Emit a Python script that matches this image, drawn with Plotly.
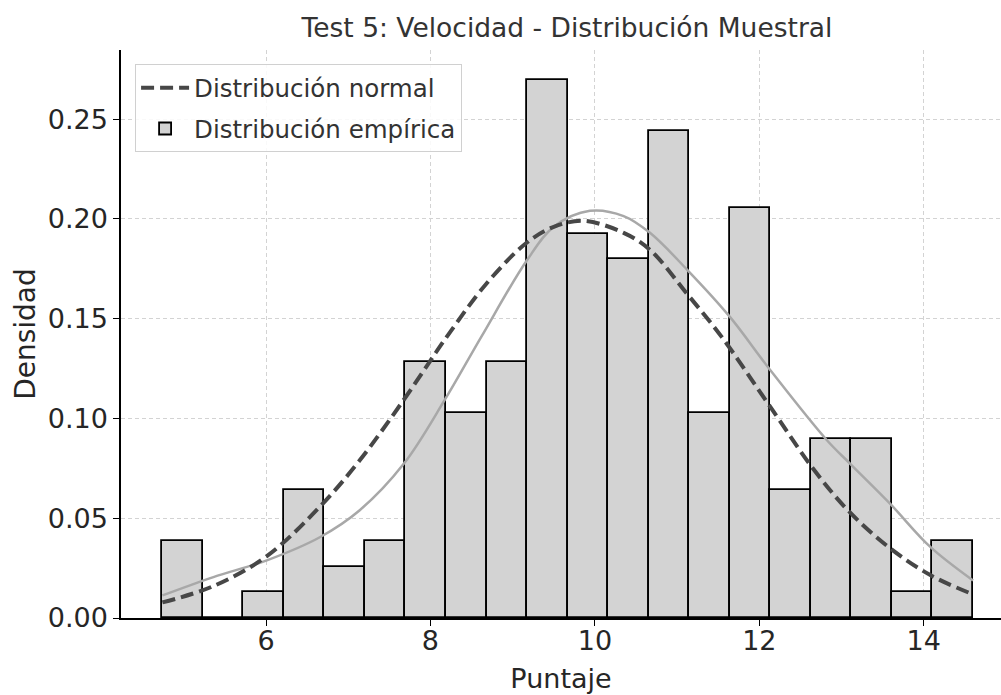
import plotly.graph_objects as go

# ---------------- data ----------------
bin_edges = [4.738, 5.231, 5.724, 6.217, 6.710, 7.203, 7.696, 8.189, 8.682, 9.175,
             9.668, 10.161, 10.654, 11.147, 11.640, 12.133, 12.626, 13.119, 13.612,
             14.105, 14.598]
hist_density = [0.0385, 0.0, 0.0128, 0.0642, 0.0257, 0.0385, 0.1284, 0.1027, 0.1284,
                0.2696, 0.1926, 0.1797, 0.2439, 0.1027, 0.2054, 0.0642, 0.0899,
                0.0899, 0.0128, 0.0385]

normal_x = [4.74, 5.36, 6.01, 6.66, 7.14, 7.67, 8.00, 8.20, 8.68, 9.17, 9.50, 9.86,
            10.35, 10.67, 11.12, 11.54, 12.13, 12.66, 13.10, 13.59, 14.08, 14.56]
normal_y = [0.0078, 0.016, 0.031, 0.056, 0.079, 0.109, 0.129, 0.141, 0.1675, 0.188,
            0.196, 0.199, 0.193, 0.1845, 0.1625, 0.141, 0.106, 0.0745, 0.053, 0.035,
            0.0215, 0.0125]

kde_x = [4.74, 5.36, 6.01, 6.66, 7.14, 7.68, 8.17, 8.62, 9.17, 9.50, 9.94, 10.35,
         10.67, 11.12, 11.64, 12.13, 12.82, 13.10, 13.59, 14.08, 14.60]
kde_y = [0.0113, 0.0205, 0.0289, 0.0406, 0.054, 0.0775, 0.109, 0.1410, 0.179, 0.196,
         0.204, 0.2014, 0.193, 0.1746, 0.151, 0.1244, 0.0892, 0.0775, 0.0573, 0.0356,
         0.0188]

x_ticks = [6, 8, 10, 12, 14]
y_ticks = [0.00, 0.05, 0.10, 0.15, 0.20, 0.25]
y_tick_text = ["0.00", "0.05", "0.10", "0.15", "0.20", "0.25"]

title_text = "Test 5: Velocidad - Distribución Muestral"
x_label = "Puntaje"
y_label = "Densidad"
normal_name = "Distribución normal"
hist_name = "Distribución empírica"

# ---------------- figure ----------------
centers = [(a + b) / 2 for a, b in zip(bin_edges[:-1], bin_edges[1:])]
widths = [b - a for a, b in zip(bin_edges[:-1], bin_edges[1:])]

FONT = "DejaVu Sans"
fig = go.Figure()

fig.add_trace(go.Bar(
    x=centers, y=hist_density, width=widths, name=hist_name,
    marker=dict(color="#d3d3d3", line=dict(color="#000000", width=1.8)),
    legendrank=2, legendgroup="hist",
))
fig.add_trace(go.Scatter(
    x=kde_x, y=kde_y, mode="lines", line=dict(color="#a8a8a8", width=2.5, shape="spline"),
    showlegend=False, hoverinfo="skip",
))
fig.add_trace(go.Scatter(
    x=normal_x, y=normal_y, mode="lines", name=normal_name,
    line=dict(color="#474747", width=4, dash="13px,6px", shape="spline"),
    legendrank=1, legendgroup="normal",
))

fig.update_layout(
    width=1001, height=695,
    margin=dict(l=121, r=0, t=50, b=77),
    paper_bgcolor="white", plot_bgcolor="white",
    bargap=0,
    font=dict(family=FONT, color="#262626"),
    title=dict(text=title_text, x=0.5068, xref="paper", xanchor="center",
               y=1 - 28 / 695, yanchor="middle", yref="container",
               font=dict(size=26.5, family=FONT, color="#333333")),
    showlegend=True,
    legend=dict(x=0.016, y=0.975, xanchor="left", yanchor="top",
                bgcolor="rgba(255,255,255,0.85)", bordercolor="#d0d0d0", borderwidth=1,
                font=dict(size=24.5, family=FONT, color="#333333"),
                itemwidth=48, traceorder="grouped", tracegroupgap=6),
)

fig.update_xaxes(
    range=[4.236, 14.94], tickvals=x_ticks, ticktext=[str(t) for t in x_ticks],
    showline=True, linecolor="#000000", linewidth=1.5, mirror=False,
    ticks="outside", ticklen=6, tickwidth=1.3, tickcolor="#000000",
    ticklabelstandoff=-8,
    tickfont=dict(size=27, family=FONT, color="#262626"),
    showgrid=True, gridcolor="#d3d3d3", gridwidth=1, griddash="4px,3px",
    zeroline=False,
    title=dict(text=x_label, font=dict(size=27, family=FONT, color="#262626"), standoff=14),
)
fig.update_yaxes(
    range=[0, 0.2846], tickvals=y_ticks, ticktext=y_tick_text,
    showline=True, linecolor="#000000", linewidth=1.5, mirror=False,
    ticks="outside", ticklen=6, tickwidth=1.3, tickcolor="#000000",
    tickfont=dict(size=27, family=FONT, color="#262626"),
    showgrid=True, gridcolor="#d3d3d3", gridwidth=1, griddash="4px,3px",
    zeroline=False,
    title=dict(text=y_label, font=dict(size=28, family=FONT, color="#262626"), standoff=4),
)

fig.write_html("out.html")
